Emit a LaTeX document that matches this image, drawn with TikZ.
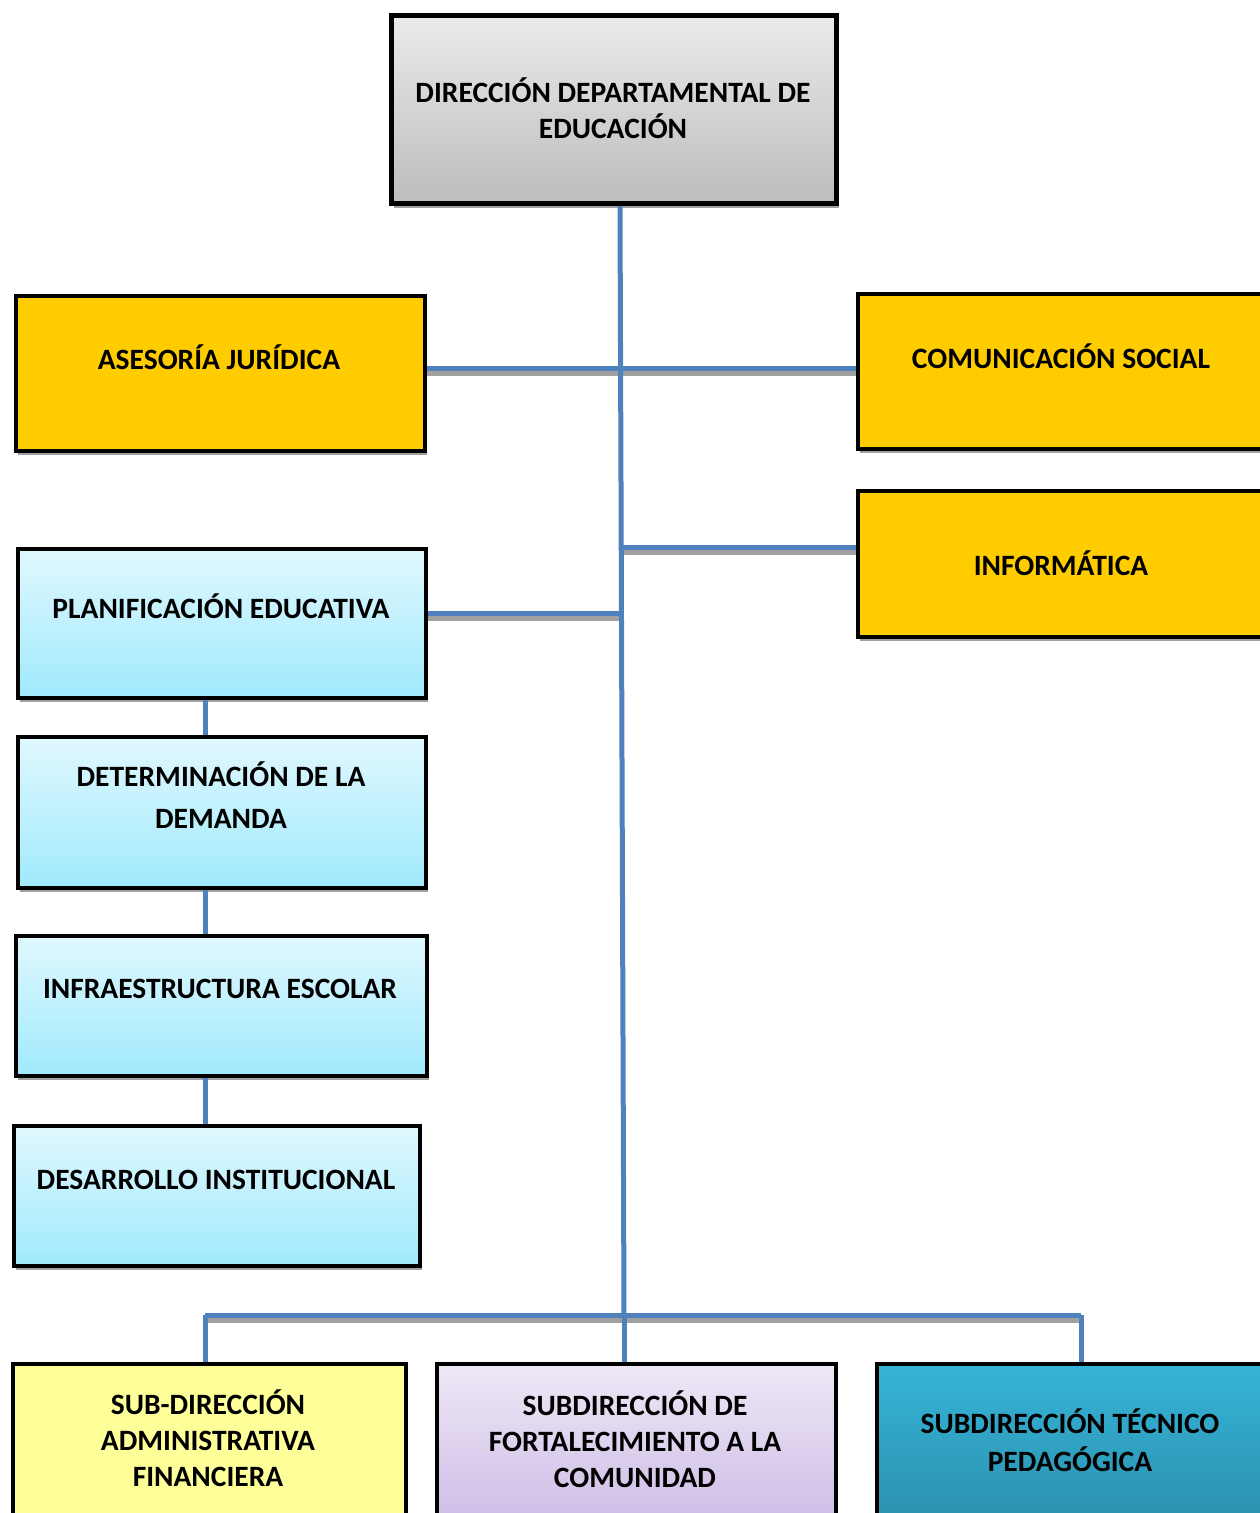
\documentclass[tikz,border=0pt]{standalone}
\usepackage{fontspec}
\setmainfont{Carlito}
\usetikzlibrary{shadows}
\definecolor{lineblue}{HTML}{4F81BD}
\definecolor{shgray}{HTML}{A0A0A0}
\definecolor{gold}{HTML}{FFCC00}
\definecolor{lbtop}{HTML}{E0F8FE}
\definecolor{lbbot}{HTML}{A0EAFD}
\definecolor{grtop}{HTML}{EAEAEA}
\definecolor{grbot}{HTML}{BDBDBD}
\definecolor{paley}{HTML}{FFFF99}
\definecolor{lvtop}{HTML}{EEE8F6}
\definecolor{lvbot}{HTML}{CAB6E4}
\definecolor{tltop}{HTML}{36B4D8}
\definecolor{tlbot}{HTML}{2A8CA8}
\tikzset{
  orgbox/.style={draw=black, line width=4pt, inner sep=0pt, anchor=north west,
    drop shadow={shadow xshift=2pt, shadow yshift=-4pt, fill=shgray, opacity=1}},
  conn/.style={draw=lineblue, line width=5pt},
  connsh/.style={draw=shgray, line width=5pt},
  txt/.style={font=\fontsize{29.5}{36}\selectfont\bfseries, align=center, inner sep=0pt}
}
\begin{document}
\begin{tikzpicture}[x=1pt,y=-1pt]
\useasboundingbox (0,0) rectangle (1260,1513);
\clip (0,0) rectangle (1260,1513);
\fill[white] (0,0) rectangle (1260,1513);

% coordinates of the trunk
\coordinate (jtop) at (620,203);
\coordinate (j1) at (621,368);
\coordinate (j2) at (622,547);
\coordinate (j3) at (622,613);
\coordinate (jbus) at (624,1315);
\coordinate (bl) at (205,1315);
\coordinate (br) at (1081,1315);

% boxes
\node[orgbox, line width=5pt, minimum width=445pt, minimum height=188pt, top color=grtop, bottom color=grbot] (dir) at (389,13) {};
\node[orgbox, minimum width=409pt, minimum height=155pt, fill=gold] (aj) at (14,294) {};
\node[orgbox, minimum width=420pt, minimum height=155pt, fill=gold] (cs) at (856,292) {};
\node[orgbox, minimum width=420pt, minimum height=146pt, fill=gold] (inf) at (856,489) {};
\node[orgbox, minimum width=408pt, minimum height=149pt, top color=lbtop, bottom color=lbbot] (pe) at (16,547) {};
\node[orgbox, minimum width=408pt, minimum height=151pt, top color=lbtop, bottom color=lbbot] (dd) at (16,735) {};
\node[orgbox, minimum width=411pt, minimum height=140pt, top color=lbtop, bottom color=lbbot] (ie) at (14,934) {};
\node[orgbox, minimum width=406pt, minimum height=140pt, top color=lbtop, bottom color=lbbot] (di) at (12,1124) {};
\node[orgbox, minimum width=393pt, minimum height=180pt, fill=paley] (sa) at (11,1362) {};
\node[orgbox, minimum width=399pt, minimum height=180pt, top color=lvtop, bottom color=lvbot] (sf) at (435,1362) {};
\node[orgbox, minimum width=400pt, minimum height=180pt, top color=tltop, bottom color=tlbot] (st) at (875,1362) {};

% texts
\node[txt] (tdir) at (613,108) {DIRECCIÓN DEPARTAMENTAL DE\\EDUCACIÓN};
\node[txt] (taj) at (219,357) {ASESORÍA JURÍDICA};
\node[txt] (tcs) at (1061,356) {COMUNICACIÓN SOCIAL};
\node[txt] (tinf) at (1061,563) {INFORMÁTICA};
\node[txt] (tpe) at (221,606) {PLANIFICACIÓN EDUCATIVA};
\node[txt, font=\fontsize{29.5}{42}\selectfont\bfseries] (tdd) at (221,795) {DETERMINACIÓN DE LA\\DEMANDA};
\node[txt] (tie) at (220,989) {INFRAESTRUCTURA ESCOLAR};
\node[txt] (tdi) at (216,1180) {DESARROLLO INSTITUCIONAL};
\node[txt] (tsa) at (208,1438) {SUB-DIRECCIÓN\\ADMINISTRATIVA\\FINANCIERA};
\node[txt] (tsf) at (635,1439) {SUBDIRECCIÓN DE\\FORTALECIMIENTO A LA\\COMUNIDAD};
\node[txt, font=\fontsize{29.5}{38}\selectfont\bfseries] (tst) at (1070,1440) {SUBDIRECCIÓN TÉCNICO\\PEDAGÓGICA};

% connector shadows
\draw[connsh] ([yshift=-5pt]aj.east |- j1) -- ([yshift=-5pt]cs.west |- j1);
\draw[connsh] ([yshift=-5pt]j2) -- ([yshift=-5pt]inf.west |- j2);
\draw[connsh] ([yshift=-5pt]pe.east |- j3) -- ([yshift=-5pt]j3);
\draw[connsh] ([yshift=-5pt]bl) -- ([yshift=-5pt]br);

% connectors
\draw[conn] (dir.south -| jtop) -- (jbus);
\draw[conn] (aj.east |- j1) -- (cs.west |- j1);
\draw[conn] (j2) -- (inf.west |- j2);
\draw[conn] (pe.east |- j3) -- (j3);
\draw[conn] (pe.south -| bl) -- (dd.north -| bl);
\draw[conn] (dd.south -| bl) -- (ie.north -| bl);
\draw[conn] (ie.south -| bl) -- (di.north -| bl);
\draw[conn] (bl) -- (br);
\draw[conn] (bl) -- (sa.north -| bl);
\draw[conn] (jbus) -- (sf.north -| jbus);
\draw[conn] (br) -- (st.north -| br);
\end{tikzpicture}
\end{document}
